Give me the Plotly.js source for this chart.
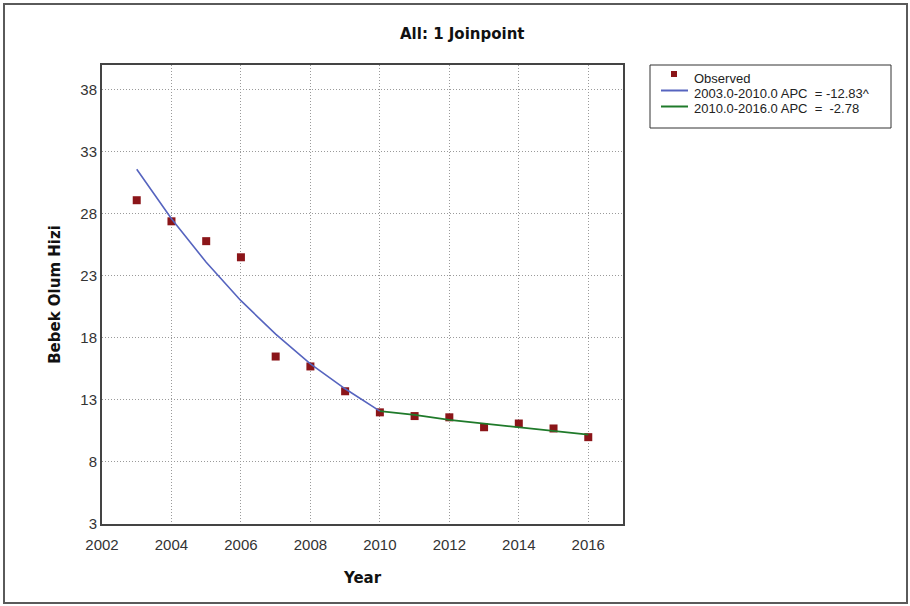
<!DOCTYPE html>
<html>
<head>
<meta charset="utf-8">
<script src="https://cdn.plot.ly/plotly-3.0.1.min.js"></script>
<style>
  html, body { margin: 0; padding: 0; background: #ffffff; }
  #wrap { position: relative; width: 910px; height: 606px; }
  #chart { position: absolute; left: 0; top: 0; width: 910px; height: 606px; }
  #frame { position: absolute; left: 3px; top: 3px; width: 901px; height: 597px;
           border: 2px solid #5a5a5a; pointer-events: none; }
</style>
</head>
<body>
<div id="wrap">
  <div id="chart"></div>
  <div id="frame"></div>
</div>
<script>
// Infant mortality rate, observed values by year
const years = [2003, 2004, 2005, 2006, 2007, 2008, 2009, 2010, 2011, 2012, 2013, 2014, 2015, 2016];
const observed = [29.1, 27.4, 25.8, 24.5, 16.5, 15.7, 13.7, 12.0, 11.7, 11.6, 10.8, 11.1, 10.7, 10.0];

// Joinpoint segment fits
const seg1Years = [2003, 2004, 2005, 2006, 2007, 2008, 2009, 2010];
const seg1Fit = [31.6, 27.6, 24.1, 21.0, 18.3, 15.9, 13.9, 12.1];
const seg2Years = [2010, 2011, 2012, 2013, 2014, 2015, 2016];
const seg2Fit = [12.1, 11.8, 11.4, 11.1, 10.8, 10.5, 10.2];

const seriesNames = [
  'Observed',
  '2003.0-2010.0 APC\u00a0\u00a0=\u00a0-12.83^',
  '2010.0-2016.0 APC\u00a0\u00a0=\u00a0\u00a0-2.78'
];
const seriesColors = ['#8b1519', '#5664bf', '#1f7a2a'];

const traces = [
  {
    x: years, y: observed, name: seriesNames[0],
    type: 'scatter', mode: 'markers',
    marker: { symbol: 'square', size: 8, color: seriesColors[0] }
  },
  {
    x: seg1Years, y: seg1Fit, name: seriesNames[1],
    type: 'scatter', mode: 'lines',
    line: { color: seriesColors[1], width: 1.6 }
  },
  {
    x: seg2Years, y: seg2Fit, name: seriesNames[2],
    type: 'scatter', mode: 'lines',
    line: { color: seriesColors[2], width: 1.8 }
  }
];

const M = { l: 102, r: 287, t: 65, b: 82 };
const W = 910, H = 606;
const plotW = W - M.l - M.r, plotH = H - M.t - M.b;
// pixel position -> paper coordinates (used for the boxed key on the right)
const px = v => (v - M.l) / plotW;
const py = v => (H - M.b - v) / plotH;

const legendFont = { family: 'Liberation Sans, Arial, sans-serif', size: 13, color: '#222222' };
const keyShapes = [
  { type: 'rect', xref: 'paper', yref: 'paper',
    x0: px(650), x1: px(891), y0: py(65), y1: py(128),
    line: { color: '#333333', width: 1 }, fillcolor: 'rgba(0,0,0,0)' },
  { type: 'rect', xref: 'paper', yref: 'paper',
    x0: px(671), x1: px(677), y0: py(71), y1: py(77),
    line: { width: 0 }, fillcolor: seriesColors[0] },
  { type: 'line', xref: 'paper', yref: 'paper',
    x0: px(661), x1: px(688), y0: py(90.5), y1: py(90.5),
    line: { color: seriesColors[1], width: 2 } },
  { type: 'line', xref: 'paper', yref: 'paper',
    x0: px(661), x1: px(688), y0: py(106.5), y1: py(106.5),
    line: { color: seriesColors[2], width: 2 } }
];
const keyRows = [78, 93, 109];
const keyTexts = seriesNames.map((t, i) => ({
  text: t, xref: 'paper', yref: 'paper',
  x: px(692), y: py(keyRows[i]), xanchor: 'left', yanchor: 'middle',
  showarrow: false, font: legendFont
}));

const tickFont = { family: 'Liberation Sans, Arial, sans-serif', size: 15, color: '#333333' };
const boldFont = { family: 'DejaVu Sans, Verdana, sans-serif', size: 15, color: '#111111', weight: 'bold' };

const layout = {
  width: W, height: H,
  margin: { l: M.l, r: M.r, t: M.t, b: M.b, pad: 0 },
  paper_bgcolor: '#ffffff', plot_bgcolor: '#ffffff',
  title: {
    text: '<b>All: 1 Joinpoint</b>',
    font: boldFont,
    x: 0.508, xref: 'container', xanchor: 'center',
    y: 0.945, yref: 'container', yanchor: 'middle'
  },
  xaxis: {
    range: [2002, 2017], tick0: 2002, dtick: 2,
    showgrid: true, gridcolor: '#9a9a9a', griddash: '1px,2px', gridwidth: 1,
    zeroline: false,
    showline: true, mirror: true, linecolor: '#444444', linewidth: 2,
    ticks: '', tickfont: tickFont, ticklabelstandoff: 6,
    title: { text: '<b>Year</b>', font: boldFont, standoff: 20 }
  },
  yaxis: {
    range: [3, 40], tick0: 3, dtick: 5,
    showgrid: true, gridcolor: '#9a9a9a', griddash: '1px,2px', gridwidth: 1,
    zeroline: false,
    showline: true, mirror: true, linecolor: '#444444', linewidth: 2,
    ticks: '', tickfont: tickFont,
    title: { text: '<b>Bebek Olum Hizi</b>', font: boldFont, standoff: 16 }
  },
  showlegend: false,
  shapes: keyShapes,
  annotations: keyTexts
};

Plotly.newPlot('chart', traces, layout, { displayModeBar: false, staticPlot: true });
</script>
</body>
</html>
